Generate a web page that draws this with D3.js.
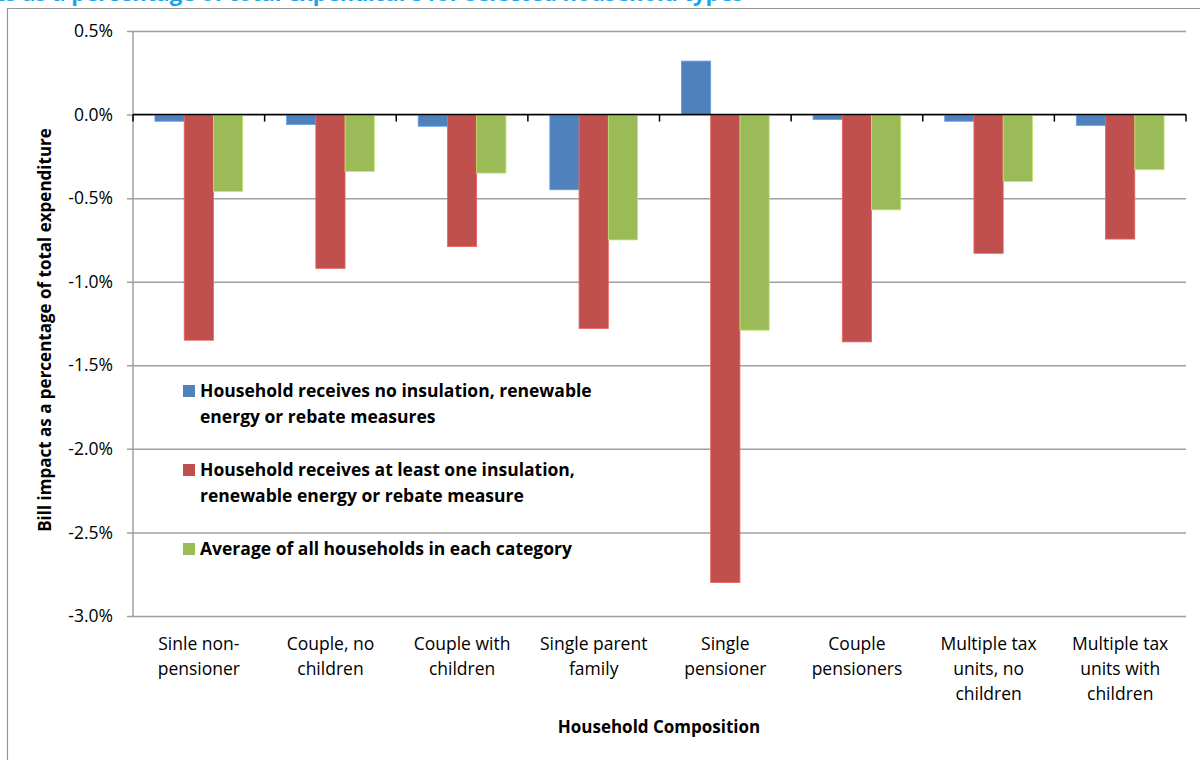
<!DOCTYPE html>
<html>
<head>
<meta charset="utf-8">
<script src="https://cdn.jsdelivr.net/npm/d3@7"></script>
<style>
  html, body { margin: 0; padding: 0; background: #fff; }
  svg { display: block; }
  text { font-family: "Open Sans", "Noto Sans", sans-serif; }
</style>
</head>
<body>
<svg id="chart" width="1200" height="760"></svg>
<script>
// Household types along the x axis (each label split into display lines)
const categories = [
  ["Sinle non-", "pensioner"],
  ["Couple, no", "children"],
  ["Couple with", "children"],
  ["Single parent", "family"],
  ["Single", "pensioner"],
  ["Couple", "pensioners"],
  ["Multiple tax", "units, no", "children"],
  ["Multiple tax", "units with", "children"]
];

// Bill impact, % of total expenditure
const noMeasures    = [-0.04, -0.06, -0.07, -0.45, 0.32, -0.03, -0.04, -0.065];
const withMeasures  = [-1.35, -0.92, -0.79, -1.28, -2.80, -1.36, -0.83, -0.745];
const allHouseholds = [-0.46, -0.34, -0.35, -0.75, -1.29, -0.57, -0.40, -0.33];

const seriesNames = [
  ["Household receives no insulation, renewable", "energy or rebate measures"],
  ["Household receives at least one insulation,", "renewable energy or rebate measure"],
  ["Average of all households in each category"]
];
const seriesColors = ["#4F81BD", "#C0504D", "#9BBB59"];
const yTicks = [0.5, 0, -0.5, -1.0, -1.5, -2.0, -2.5, -3.0];

const series = [noMeasures, withMeasures, allHouseholds];

const svg = d3.select("#chart");
const plot = { left: 133, right: 1186, top: 31, bottom: 616 };

// Chart title (runs off the top edge)
svg.append("text")
  .attr("x", -4).attr("y", 1)
  .attr("fill", "#1AA3E8")
  .attr("font-weight", "bold")
  .attr("font-size", 22)
  .text("ts as a percentage of total expenditure for selected household types");

// Outer chart frame
svg.append("path")
  .attr("d", "M7.5,760 V8.5 H1200")
  .attr("fill", "none").attr("stroke", "#969696").attr("stroke-width", 1.2);

const x = d3.scaleBand()
  .domain(d3.range(categories.length))
  .range([plot.left, plot.right])
  .paddingInner(0).paddingOuter(0);

const y = d3.scaleLinear().domain([-3.0, 0.5]).range([plot.bottom, plot.top]);

// Horizontal gridlines with y axis ticks
const pct = d3.format(".1f");
const yAxis = d3.axisLeft(y)
  .tickValues(yTicks)
  .tickSize(-(plot.right - plot.left))
  .tickFormat(d => pct(d).replace("\u2212", "-") + "%");
const gy = svg.append("g")
  .attr("transform", `translate(${plot.left},0)`)
  .call(yAxis);
gy.select(".domain").remove();
gy.selectAll(".tick line")
  .attr("x1", -6)
  .attr("stroke", "#A0A0A0").attr("stroke-width", 1.5);
gy.selectAll(".tick text")
  .attr("x", -20)
  .attr("font-size", 17.5)
  .attr("fill", "#000");

// Vertical value axis line
svg.append("line")
  .attr("x1", plot.left).attr("x2", plot.left)
  .attr("y1", plot.top).attr("y2", plot.bottom)
  .attr("stroke", "#A0A0A0").attr("stroke-width", 1.5);

// Bars
const inner = d3.scaleBand()
  .domain(d3.range(series.length))
  .range([0, x.bandwidth()])
  .paddingOuter(0.75).paddingInner(0);

series.forEach((vals, s) => {
  svg.append("g")
    .selectAll("rect")
    .data(vals)
    .join("rect")
    .attr("x", (d, i) => x(i) + inner(s))
    .attr("width", inner.bandwidth())
    .attr("y", d => y(Math.max(0, d)))
    .attr("height", d => Math.abs(y(d) - y(0)))
    .attr("fill", seriesColors[s])
    .attr("stroke", d3.color(seriesColors[s]).brighter(0.6))
    .attr("stroke-width", 0.8);
});

// Category axis along zero, ticks between groups
const boundaries = d3.range(categories.length + 1).map(i =>
  i < categories.length ? x(i) : plot.right);
svg.append("line")
  .attr("x1", plot.left).attr("x2", plot.right)
  .attr("y1", y(0)).attr("y2", y(0))
  .attr("stroke", "#000").attr("stroke-width", 1.5);
svg.append("g").selectAll("line")
  .data(boundaries)
  .join("line")
  .attr("x1", d => d).attr("x2", d => d)
  .attr("y1", y(0)).attr("y2", y(0) + 7)
  .attr("stroke", "#000").attr("stroke-width", 1.5);

// Category labels under the plot
const catG = svg.append("g").selectAll("text")
  .data(categories)
  .join("text")
  .attr("text-anchor", "middle")
  .attr("font-size", 17.5)
  .attr("fill", "#000")
  .attr("transform", (d, i) => `translate(${x(i) + x.bandwidth() / 2},650)`);
catG.selectAll("tspan")
  .data(d => d)
  .join("tspan")
  .attr("x", 0)
  .attr("dy", (d, j) => j === 0 ? 0 : 25)
  .text(d => d);

// Axis titles
svg.append("text")
  .attr("x", 659).attr("y", 733)
  .attr("text-anchor", "middle")
  .attr("font-weight", "bold")
  .attr("font-size", 17)
  .text("Household Composition");

svg.append("text")
  .attr("transform", "translate(51,330) rotate(-90)")
  .attr("text-anchor", "middle")
  .attr("font-weight", "bold")
  .attr("font-size", 17)
  .text("Bill impact as a percentage of total expenditure");

// Legend
const legendTop = [385, 464, 543];
seriesNames.forEach((lines, s) => {
  svg.append("rect")
    .attr("x", 183).attr("y", legendTop[s])
    .attr("width", 12).attr("height", 12)
    .attr("fill", seriesColors[s]);
  const t = svg.append("text")
    .attr("x", 200).attr("y", legendTop[s] + 12)
    .attr("font-weight", "bold")
    .attr("font-size", 17.5)
    .attr("fill", "#000");
  t.selectAll("tspan")
    .data(lines)
    .join("tspan")
    .attr("x", 200)
    .attr("dy", (d, j) => j === 0 ? 0 : 26)
    .text(d => d);
});
</script>
</body>
</html>
